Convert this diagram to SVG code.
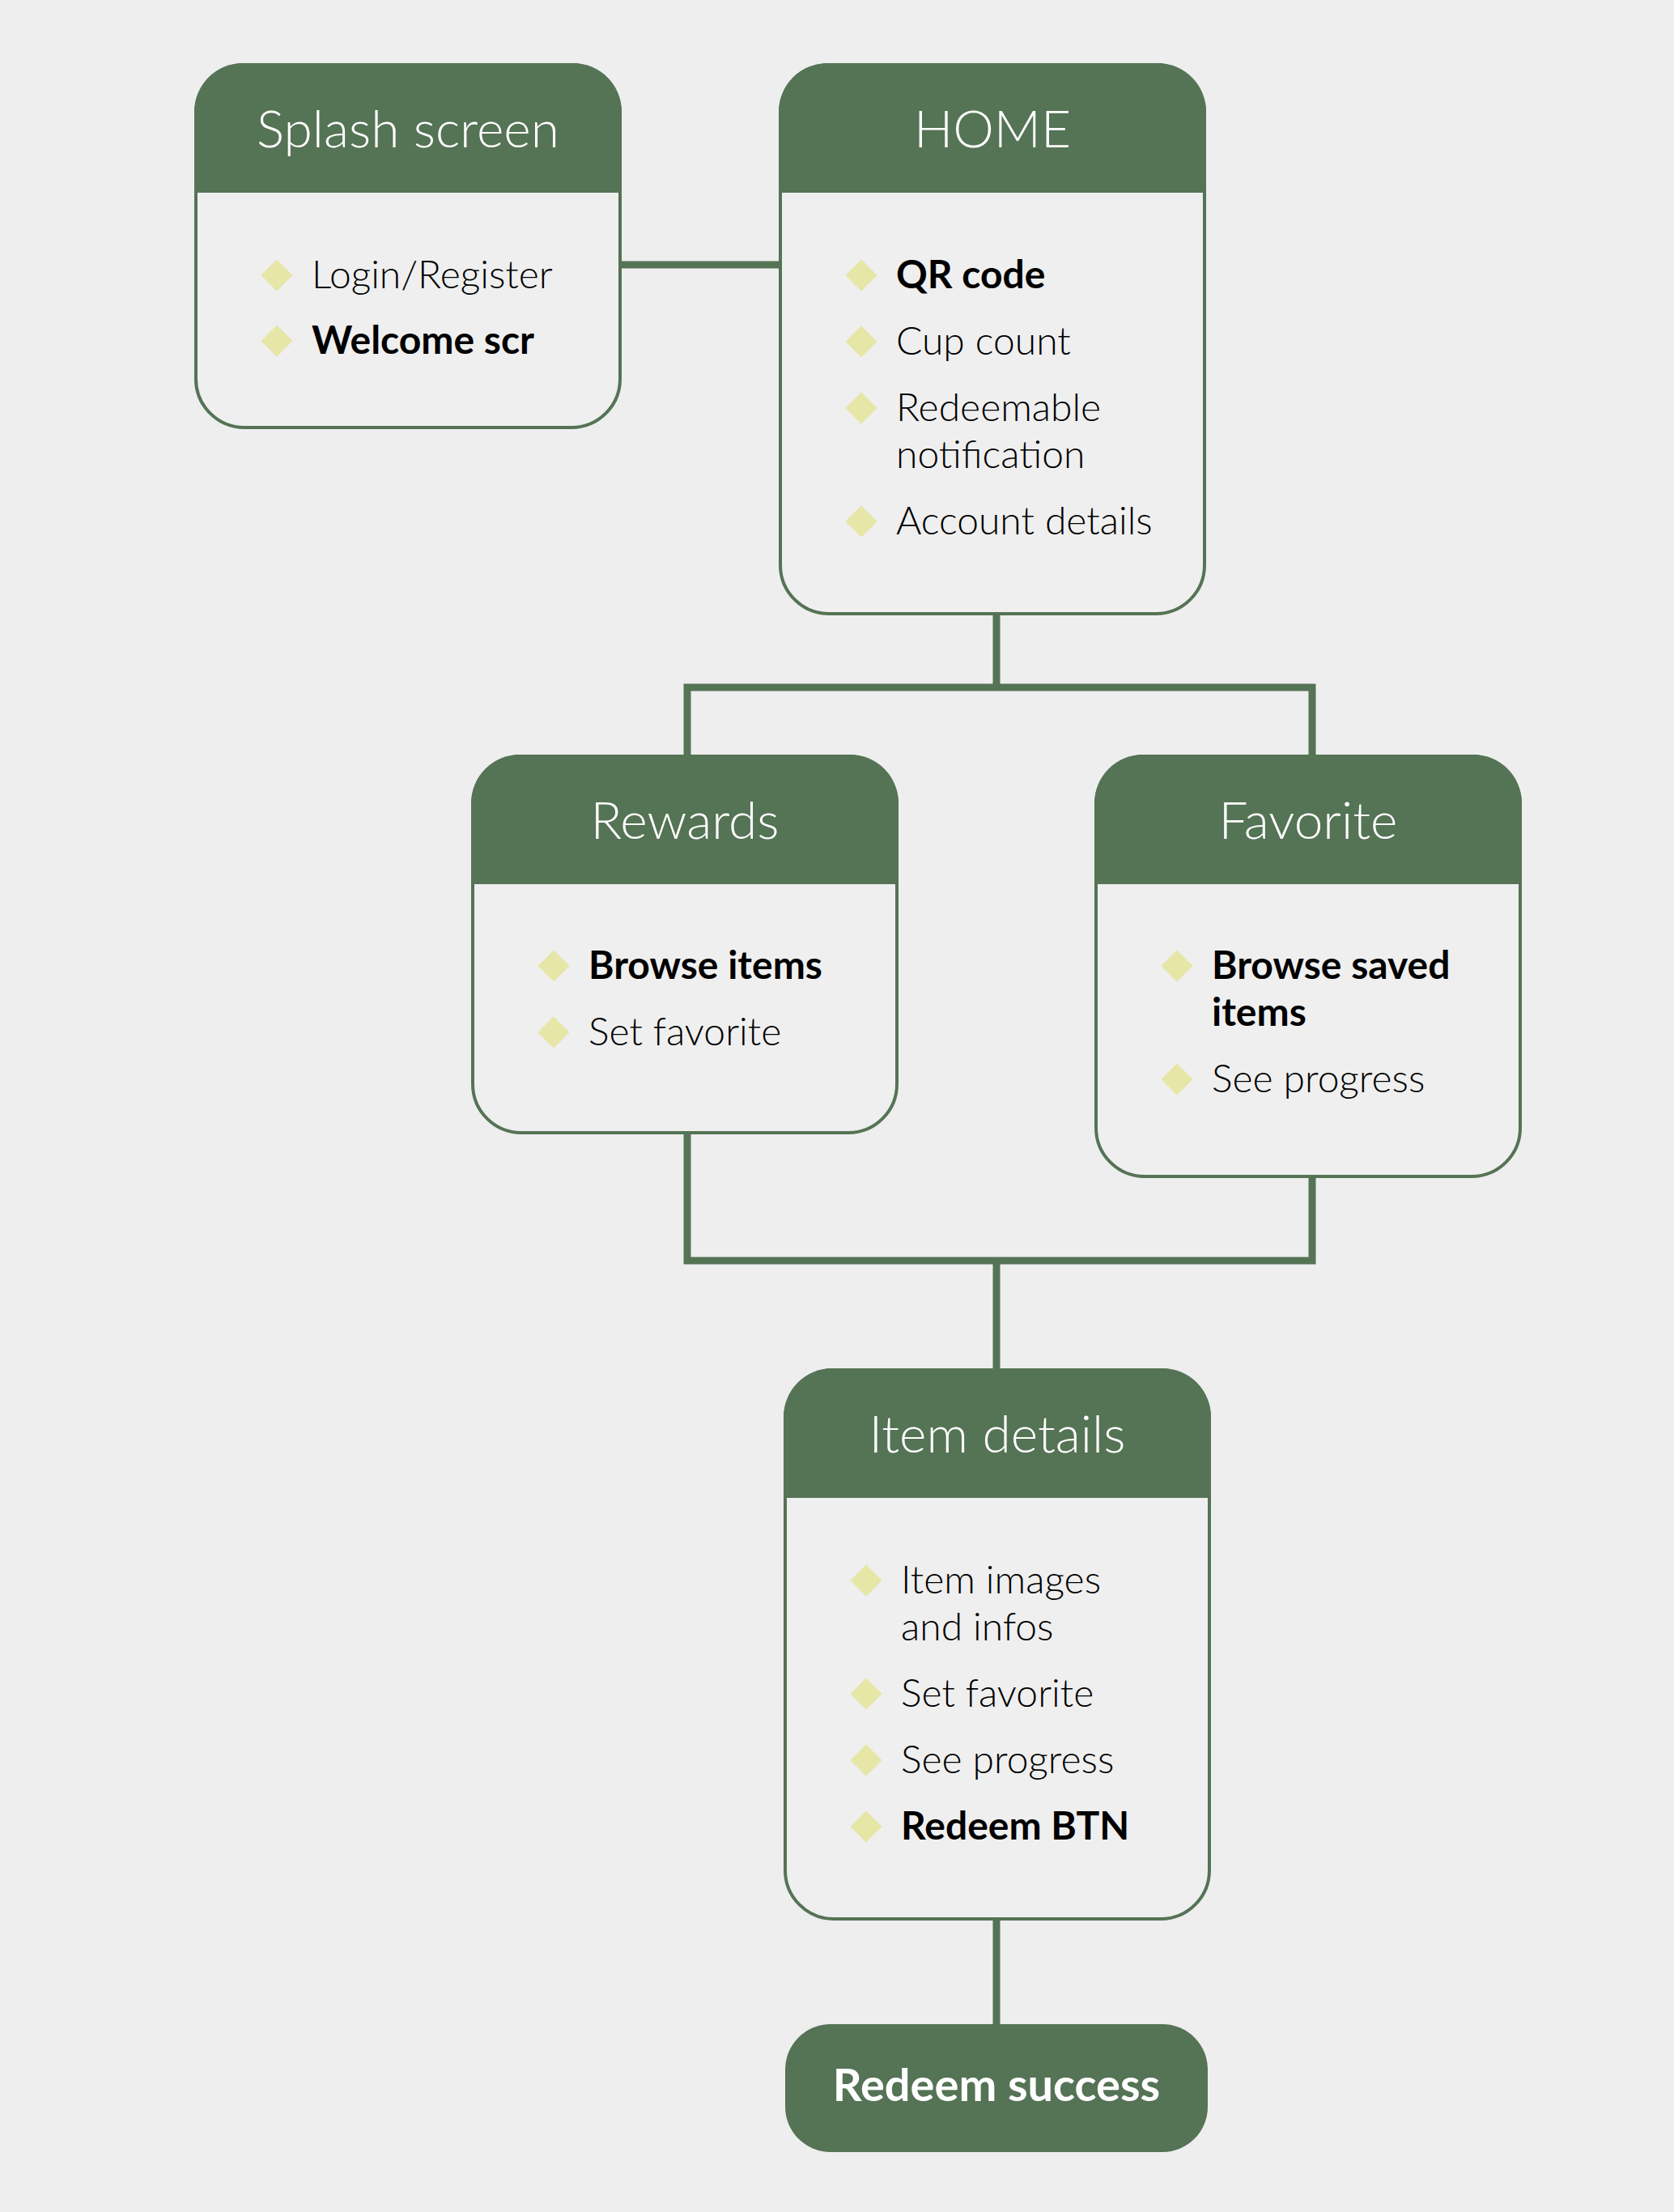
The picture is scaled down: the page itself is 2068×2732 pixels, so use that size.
<svg xmlns="http://www.w3.org/2000/svg" width="2068" height="2732" viewBox="0 0 2068 2732">
<style>
.bg{fill:#eeeeee}
.body{fill:#efefef;stroke:#557355;stroke-width:4}
.head{fill:#557355}
.title{font-family:Lato,"Open Sans","Liberation Sans",sans-serif;font-weight:300;font-size:64px;fill:#ffffff;text-anchor:middle}
.item{font-family:Lato,"Open Sans","Liberation Sans",sans-serif;font-weight:300;font-size:48px;fill:#000000}
.b{font-weight:700}
.dot{fill:#e6e6a6}
.conn{fill:none;stroke:#557355;stroke-width:9;stroke-linejoin:miter}
.btn{fill:#557355}
.btntext{font-family:Lato,"Open Sans","Liberation Sans",sans-serif;font-weight:700;font-size:56px;fill:#ffffff;text-anchor:middle}
</style>
<defs>
<path id="dia" d="M0 -19.5 L19.5 0 L0 19.5 L-19.5 0 Z"/>
</defs>
<rect class="bg" x="0" y="0" width="2068" height="2732"/>

<g id="connectors">
<path class="conn" d="M768 327 H962"/>
<path class="conn" d="M1231 760 V849"/>
<path class="conn" d="M849 932 V849 H1621 V932"/>
<path class="conn" d="M849 1401 V1557 H1621 V1455"/>
<path class="conn" d="M1231 1557 V1690"/>
<path class="conn" d="M1231 2372 V2500"/>
</g>

<g id="splash">
<rect class="body" x="242" y="80" width="524" height="448" rx="60"/>
<path class="head" d="M240 238 V138 A60 60 0 0 1 300 78 H708 A60 60 0 0 1 768 138 V238 Z"/>
<text class="title" x="504" y="182">Splash screen</text>
<use href="#dia" class="dot" x="342" y="340"/>
<text class="item" x="385" y="356">Login/Register</text>
<use href="#dia" class="dot" x="342" y="421"/>
<text class="item b" x="385" y="437">Welcome scr</text>
</g>

<g id="home">
<rect class="body" x="964" y="80" width="524" height="678" rx="60"/>
<path class="head" d="M962 238 V138 A60 60 0 0 1 1022 78 H1430 A60 60 0 0 1 1490 138 V238 Z"/>
<text class="title" x="1226" y="182">HOME</text>
<use href="#dia" class="dot" x="1064" y="340"/>
<text class="item b" x="1107" y="356">QR code</text>
<use href="#dia" class="dot" x="1064" y="422"/>
<text class="item" x="1107" y="438">Cup count</text>
<use href="#dia" class="dot" x="1064" y="504"/>
<text class="item" x="1107" y="520">Redeemable</text>
<text class="item" x="1107" y="578">notification</text>
<use href="#dia" class="dot" x="1064" y="644"/>
<text class="item" x="1107" y="660">Account details</text>
</g>

<g id="rewards">
<rect class="body" x="584" y="934" width="524" height="465" rx="60"/>
<path class="head" d="M582 1092 V992 A60 60 0 0 1 642 932 H1050 A60 60 0 0 1 1110 992 V1092 Z"/>
<text class="title" x="846" y="1036">Rewards</text>
<use href="#dia" class="dot" x="684" y="1193"/>
<text class="item b" x="727" y="1209">Browse items</text>
<use href="#dia" class="dot" x="684" y="1275"/>
<text class="item" x="727" y="1291">Set favorite</text>
</g>

<g id="favorite">
<rect class="body" x="1354" y="934" width="524" height="519" rx="60"/>
<path class="head" d="M1352 1092 V992 A60 60 0 0 1 1412 932 H1820 A60 60 0 0 1 1880 992 V1092 Z"/>
<text class="title" x="1616" y="1036">Favorite</text>
<use href="#dia" class="dot" x="1454" y="1193"/>
<text class="item b" x="1497" y="1209">Browse saved</text>
<text class="item b" x="1497" y="1267">items</text>
<use href="#dia" class="dot" x="1454" y="1333"/>
<text class="item" x="1497" y="1349">See progress</text>
</g>

<g id="item-details">
<rect class="body" x="970" y="1692" width="524" height="678" rx="60"/>
<path class="head" d="M968 1850 V1750 A60 60 0 0 1 1028 1690 H1436 A60 60 0 0 1 1496 1750 V1850 Z"/>
<text class="title" x="1232" y="1794">Item details</text>
<use href="#dia" class="dot" x="1070" y="1952"/>
<text class="item" x="1113" y="1968">Item images</text>
<text class="item" x="1113" y="2026">and infos</text>
<use href="#dia" class="dot" x="1070" y="2092"/>
<text class="item" x="1113" y="2108">Set favorite</text>
<use href="#dia" class="dot" x="1070" y="2174"/>
<text class="item" x="1113" y="2190">See progress</text>
<use href="#dia" class="dot" x="1070" y="2256"/>
<text class="item b" x="1113" y="2272">Redeem BTN</text>
</g>

<g id="redeem-success">
<rect class="btn" x="970" y="2500" width="522" height="158" rx="56"/>
<text class="btntext" x="1231" y="2595">Redeem success</text>
</g>
</svg>
